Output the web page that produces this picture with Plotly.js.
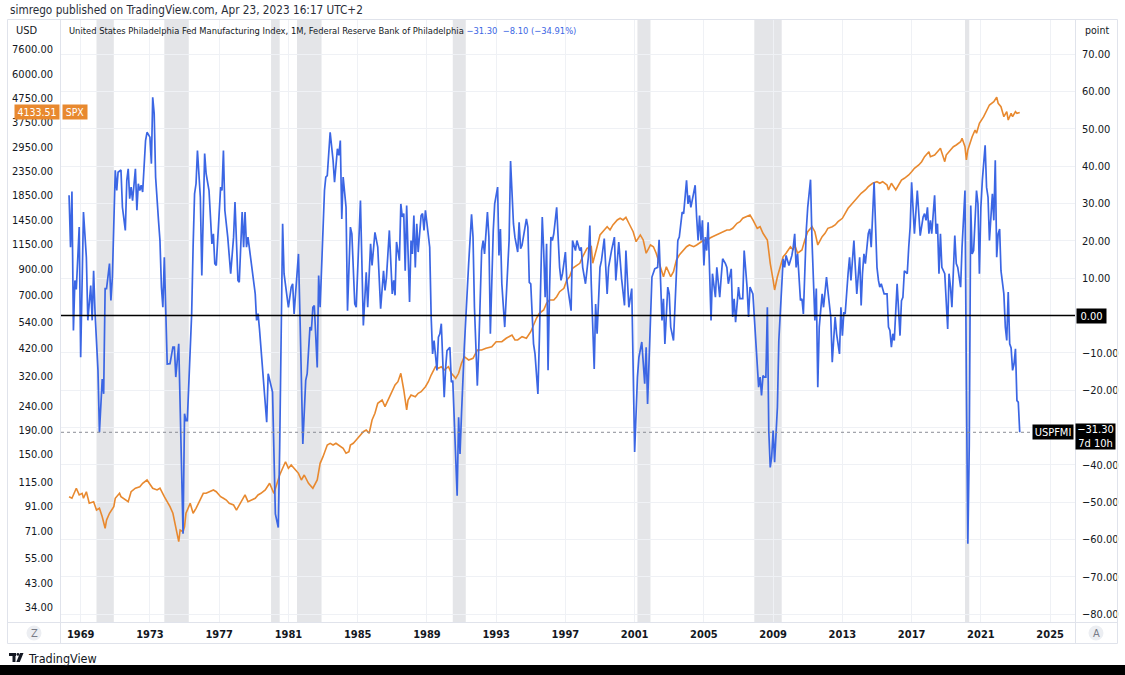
<!DOCTYPE html>
<html>
<head>
<meta charset="utf-8">
<script src="https://cdn.plot.ly/plotly-3.0.1.min.js"></script>
<style>
  html, body { margin: 0; padding: 0; background: #ffffff; }
  #chart { width: 1125px; height: 675px; }
</style>
</head>
<body>
<div id="chart"></div>
<script>
// Philadelphia Fed Manufacturing Index (monthly, points)
const phillyDates = [
  '1968-05','1968-06','1968-07','1968-08','1968-09','1968-10','1968-12',
  '1969-01','1969-03','1969-05','1969-06','1969-08','1969-09','1969-10','1969-11',
  '1970-01','1970-02','1970-04','1970-05','1970-06','1970-07','1970-09','1970-10','1970-11',
  '1971-01','1971-02','1971-03','1971-05','1971-06','1971-08','1971-09','1971-10','1971-11','1971-12',
  '1972-01','1972-03','1972-04','1972-05','1972-06','1972-07','1972-08','1972-10','1972-11',
  '1973-01','1973-02','1973-03','1973-04','1973-05','1973-07','1973-08','1973-09','1973-10','1973-11','1973-12',
  '1974-01','1974-03','1974-05','1974-06','1974-07','1974-09','1974-10','1974-11','1974-12',
  '1975-01','1975-02','1975-03','1975-06','1975-07','1975-08','1975-09','1975-10','1975-12',
  '1976-01','1976-02','1976-03','1976-04','1976-06','1976-08','1976-09','1976-10','1976-11',
  '1977-02','1977-03','1977-04','1977-05','1977-07','1977-09','1977-11','1977-12',
  '1978-02','1978-03','1978-05','1978-06','1978-07','1978-08','1978-09','1978-10',
  '1979-02','1979-03','1979-04','1979-05','1979-08','1979-10','1979-11',
  '1980-01','1980-02','1980-04','1980-06','1980-07','1980-09','1980-10','1980-11',
  '1981-01','1981-03','1981-04','1981-05','1981-06','1981-08','1981-09','1981-11',
  '1982-01','1982-02','1982-04','1982-05','1982-06','1982-07','1982-09','1982-10','1982-11','1982-12',
  '1983-01','1983-02','1983-03','1983-04','1983-06','1983-08','1983-09','1983-11','1983-12',
  '1984-01','1984-02','1984-03','1984-05','1984-06','1984-08','1984-09','1984-11','1984-12',
  '1985-03','1985-04','1985-05','1985-07','1985-08','1985-10','1985-11',
  '1986-01','1986-03','1986-05','1986-07','1986-08','1986-09','1986-11',
  '1987-01','1987-02','1987-03','1987-04','1987-06','1987-07','1987-08','1987-09','1987-10','1987-11',
  '1988-01','1988-02','1988-03','1988-04','1988-05','1988-06','1988-07','1988-08','1988-09','1988-10','1988-11','1988-12',
  '1989-02','1989-03','1989-04','1989-05','1989-06','1989-08','1989-09','1989-10','1989-11','1989-12',
  '1990-01','1990-02','1990-03','1990-05','1990-06','1990-07','1990-09','1990-10','1990-11','1990-12',
  '1991-01','1991-03','1991-06','1991-08','1991-09','1991-10','1991-12',
  '1992-01','1992-03','1992-04','1992-05','1992-07','1992-08','1992-09','1992-11','1992-12',
  '1993-02','1993-03','1993-04','1993-05','1993-07','1993-08','1993-10','1993-11',
  '1994-01','1994-02','1994-04','1994-05','1994-06','1994-07','1994-10','1994-11','1994-12',
  '1995-01','1995-03','1995-04','1995-06','1995-07','1995-09','1995-10','1995-11','1995-12',
  '1996-01','1996-02','1996-03','1996-04','1996-05','1996-07','1996-09','1996-10','1996-11',
  '1997-01','1997-02','1997-03','1997-05','1997-06','1997-08','1997-09','1997-11','1997-12',
  '1998-01','1998-03','1998-05','1998-06','1998-07','1998-09','1998-10','1998-11',
  '1999-01','1999-02','1999-04','1999-06','1999-07','1999-09','1999-11','1999-12',
  '2000-02','2000-04','2000-06','2000-07','2000-09','2000-11','2000-12',
  '2001-01','2001-03','2001-04','2001-06','2001-08','2001-09','2001-10',
  '2002-01','2002-03','2002-05','2002-06','2002-08','2002-09','2002-10','2002-12',
  '2003-01','2003-02','2003-04','2003-05','2003-06','2003-07','2003-08','2003-10','2003-11',
  '2004-01','2004-02','2004-03','2004-04','2004-05','2004-07','2004-08','2004-09','2004-10','2004-11','2004-12',
  '2005-01','2005-02','2005-03','2005-04','2005-05','2005-06','2005-07','2005-09','2005-10','2005-12',
  '2006-01','2006-02','2006-04','2006-05','2006-06','2006-08','2006-09','2006-10','2006-11',
  '2007-01','2007-02','2007-04','2007-05','2007-07','2007-08','2007-09','2007-11','2007-12',
  '2008-02','2008-03','2008-04','2008-05','2008-06','2008-07','2008-08','2008-09','2008-10','2008-11','2008-12',
  '2009-01','2009-02','2009-04','2009-05','2009-06','2009-08','2009-09','2009-10','2009-12',
  '2010-02','2010-03','2010-04','2010-05','2010-06','2010-08','2010-09','2010-10','2010-11','2010-12',
  '2011-01','2011-03','2011-04','2011-05','2011-06','2011-07','2011-08','2011-09','2011-11','2011-12',
  '2012-02','2012-03','2012-05','2012-06','2012-08','2012-09','2012-11','2012-12',
  '2013-01','2013-02','2013-03','2013-05','2013-06','2013-07','2013-09','2013-10','2013-11',
  '2014-01','2014-02','2014-03','2014-04','2014-05','2014-07','2014-08','2014-09','2014-11','2014-12',
  '2015-01','2015-02','2015-03','2015-04','2015-05','2015-06','2015-08','2015-09','2015-10','2015-11','2015-12',
  '2016-01','2016-03','2016-04','2016-05','2016-06','2016-07','2016-08','2016-10','2016-11','2016-12',
  '2017-01','2017-02','2017-03','2017-05','2017-06','2017-07','2017-09','2017-10','2017-11','2017-12',
  '2018-01','2018-02','2018-03','2018-05','2018-06','2018-07','2018-08','2018-09','2018-10','2018-12',
  '2019-02','2019-03','2019-04','2019-05','2019-07','2019-08','2019-09','2019-10','2019-11','2019-12',
  '2020-02','2020-03','2020-04','2020-05','2020-06','2020-07','2020-08','2020-10','2020-11','2020-12',
  '2021-01','2021-02','2021-04','2021-05','2021-06','2021-07','2021-09','2021-10','2021-11','2021-12',
  '2022-01','2022-02','2022-03','2022-05','2022-06','2022-07','2022-08','2022-09','2022-10','2022-11','2022-12',
  '2023-01','2023-02','2023-03','2023-04'
];
const phillyValues = [
  32.2, 18.3, 33.2, -4, 9.4, 7, 23.7,
  -11.2, 27.7, 15.6, -1.3, 8, -1.3, 12, 0.5,
  -14.7, -31.3, -17, -21, 7.2, 7.2, 13.9, 4, 10.3,
  38.9, 33.5, 38.4, 39, 29, 22.8, 36.2, 39.3, 31.3, 34.4,
  30.8, 39.3, 28.2, 35.3, 33.5, 34.9, 33.1, 46.9, 49.1,
  47.8, 40.7, 58.5, 54.1, 37.1, 25.5, 20.1, 7.6, 2.2, 15.6, -0.4,
  -13, -12.9, -8.5, -8.5, -16.5, -7.6, -26.4, -44.2, -58.5,
  -26.3, -28.2, -28.2, 0.5, 18.3, 32.6, 35.3, 44.2, 31.7,
  10.7, 27.3, 43.4, 38, 33.5, 19.2, 21.9, 13.9, 13.4,
  34.4, 33.5, 44.2, 28.2, 21, 11.2, 21, 30.4,
  9.4, 8.9, 27.7, 18.3, 27.7, 18.3, 21, 18.3,
  5.8, -1.3, 0.5, -3.5, -17.4, -28.6, -15.6,
  -19.2, -20.5, -53.2, -56.8, -35.3, 24.6, 11.2, 8.5,
  2.2, 7.6, 8.5, 0.4, 5.8, 16.5, 0.4, -34.4,
  -17.4, -15.6, -3.1, -4, 2.2, 2.7, -13.9, 10.7, 2.2, 13.9,
  21.9, 33.5, 37.1, 37.5, 49.1, 41.6, 35.7, 44.7, 42.9,
  46.9, 25.9, 37.1, 29, 1.3, 23.7, 21.9, 3.1, 2.2,
  30.8, 9.4, -2.7, 11.6, 2.2, 19.2, 13.4,
  22.3, 18.3, 1.8, 12, 6.7, 10.3, 22.8,
  5.8, 9.4, 5.4, 19.7, 14.7, 29.9, 26.4, 27.3, 12, 29.5,
  3.6, 20.1, 16.5, 26.8, 12.9, 24.6, 17, 21.9, 26.8, 27.3, 22.8, 28.2,
  20.1, 18.3, -0.4, -10.3, -6.7, -14.7, -5.8, -4.9, -2.2, -12.1,
  -21.9, -13.9, -9.4, -8.5, -17.9, -17.4, -39.8, -48.3, -27.3, -37.1,
  -26.4, -8.5, 13.9, 27.1, 21, 2.2, -18.8,
  -8.5, 17.4, 20.1, 16.5, 27.7, 21, -4.9, 22.8, 29.9,
  34.4, 16.1, 23.2, 8.5, -3.1, 5.8, 20.1, 41.4,
  24.6, 21, 17, 25, 17.9, 18.8, 25.9, 23.7, 8.9,
  8.5, -7.6, -10.3, -21, -6.7, 26.4, 17.4, 4.9, 19.2,
  -14.7, 6.7, 21, 20.1, 21.9, 29, 12.9, 9.4, 11.2,
  17, 9.4, 6.7, 1.3, 20.1, 17.4, 20.1, 17.4, 18.3,
  12.9, 8.5, 15.6, 24.1, 8.5, -14.3, 3.1, -4.9,
  12.9, 14.7, 20.6, 5.8, 12.9, 17.4, 21, 9.4,
  19.7, 9.8, 2.7, 17.4, 2.2, 7.2, -15.6,
  -36.6, -16.5, -11.2, -7.1, -18.3, -8.5, -23.7,
  10.3, 12.5, 12.9, 20.3, -1.3, 4.5, -7.6, 7.6,
  5.8, -3.1, -6.7, 2.2, 11.2, 20.1, 21, 27.7, 27.3,
  36.2, 29.9, 32.2, 29, 30.8, 34.9, 26.4, 20.1, 26.8, 20.1, 25.5,
  13.4, 21, 17.4, 25, 7.6, -1.3, 11.2, 4.9, 12.9, 4.9,
  10.3, 15.2, 13.9, 12.9, 8.5, 12.5, -0.4, 4.5, -1.8,
  7.6, 4.5, 4.5, 17.4, 7.6, -0.4, 7.6, 5.8, -1.3,
  -14.7, -19.2, -16.5, -21.4, -16.1, -16.5, -16.5, 2.2, -30.8, -40.7, -38,
  -30.8, -39.3, -24.6, -6.7, 0.4, 15.2, 12.9, 16.1, 13.4,
  16.1, 18.3, 21.9, 12.9, 16.5, 4, 4.5, 0.4, 15.6, 22.8,
  29, 36.4, 20.1, 7.6, -1.3, 7.2, -19.2, -3.1, 5.8, 2.2,
  10.3, 6.7, -0.4, -12.5, -0.4, -4.9, -10.3, 2.2,
  -5.4, 0.9, 0.4, 11.2, 15.6, 9.4, 20.1, 12.9, 5.8,
  15.6, 2.7, 11.2, 16.5, 13.9, 21.9, 23.2, 18.3, 35.7, 22.8,
  12.9, 9.4, 7.6, 8.5, 6.7, 5.8, 5.8, -3.1, -4, -8.5, -4.9,
  -6.7, 8.5, 0.4, -5.4, 4, 4.9, 12, 11.2, 18.3, 23.7,
  35.7, 27.3, 21.9, 33.5, 27.3, 21.4, 26.4, 27.3, 25.5, 29,
  21.9, 25.5, 21.9, 32.2, 21.9, 24.6, 11.2, 21.9, 12.9, 11.2,
  -3.6, 11.2, 7.6, 2.2, 21.4, 13.9, 12.9, 9.4, 7.6, 18.3,
  33.5, -17.4, -61.2, -35, 29.5, 16.5, 17.4, 33.5, 29.9, 11.2,
  29, 36.2, 45.6, 34.4, 31.7, 20.1, 32.6, 25.5, 41.6, 15.6,
  21.9, 23.2, 12, 5.8, -3.1, -6.7, 6.3, -7.6, -8.7, -14.7, -13,
  -8.9, -22.8, -23.2, -31.3
];

// S&P 500 index (monthly close, USD)
const spxDates = [
  '1968-05','1968-07','1968-10','1968-12',
  '1969-02','1969-03','1969-05','1969-07','1969-10','1969-12',
  '1970-02','1970-04','1970-06','1970-07','1970-09','1970-12',
  '1971-01','1971-04','1971-05','1971-08','1971-10','1971-12',
  '1972-03','1972-06','1972-08','1972-11',
  '1973-01','1973-03','1973-06','1973-08','1973-11',
  '1974-01','1974-03','1974-05','1974-07','1974-09','1974-10','1974-12',
  '1975-01','1975-02','1975-05','1975-07','1975-09',
  '1976-01','1976-02','1976-04','1976-07','1976-09','1976-11',
  '1977-02','1977-04','1977-06','1977-08','1977-11',
  '1978-01','1978-03','1978-05','1978-07','1978-09','1978-12',
  '1979-02','1979-04','1979-06','1979-09','1979-11','1979-12',
  '1980-03','1980-05','1980-07','1980-09','1980-11',
  '1981-01','1981-03','1981-06','1981-08','1981-10','1981-12',
  '1982-03','1982-05','1982-06','1982-09','1982-11',
  '1983-01','1983-04','1983-06','1983-08','1983-10',
  '1984-01','1984-03','1984-05','1984-07','1984-08','1984-10','1984-12',
  '1985-03','1985-05','1985-07','1985-09','1985-11',
  '1986-01','1986-03','1986-06','1986-08','1986-10',
  '1987-01','1987-03','1987-05','1987-07','1987-09','1987-11','1987-12',
  '1988-02','1988-05','1988-07','1988-09','1988-12',
  '1989-02','1989-04','1989-07','1989-09','1989-11',
  '1990-01','1990-04','1990-06','1990-09','1990-11',
  '1991-01','1991-03','1991-06','1991-09','1991-12',
  '1992-03','1992-06','1992-10',
  '1993-01','1993-05','1993-08','1993-12',
  '1994-02','1994-04','1994-07','1994-10',
  '1995-01','1995-03','1995-05','1995-07','1995-10','1995-12',
  '1996-02','1996-05','1996-07','1996-09','1996-12',
  '1997-02','1997-04','1997-06','1997-09','1997-11',
  '1998-01','1998-04','1998-07','1998-08','1998-11',
  '1999-01','1999-04','1999-06','1999-08','1999-10',
  '2000-01','2000-03','2000-05','2000-07','2000-09','2000-11','2000-12',
  '2001-02','2001-05','2001-07','2001-09','2001-12',
  '2002-02','2002-04','2002-07','2002-09','2002-11',
  '2003-01','2003-02','2003-04','2003-06','2003-08','2003-11',
  '2004-01','2004-03','2004-06','2004-08','2004-10',
  '2005-01','2005-03','2005-05','2005-07','2005-10','2005-12',
  '2006-02','2006-05','2006-07','2006-09','2006-12',
  '2007-02','2007-04','2007-07','2007-09','2007-11',
  '2008-02','2008-04','2008-06','2008-09','2008-11',
  '2009-01','2009-02','2009-04','2009-06','2009-08','2009-10',
  '2010-01','2010-03','2010-04','2010-06','2010-09','2010-11',
  '2011-01','2011-04','2011-06','2011-08','2011-11',
  '2012-01','2012-03','2012-06','2012-08','2012-10',
  '2013-01','2013-03','2013-05','2013-07','2013-10','2013-12',
  '2014-02','2014-05','2014-07','2014-10',
  '2015-01','2015-03','2015-05','2015-08','2015-09','2015-11',
  '2016-02','2016-04','2016-06','2016-08','2016-11',
  '2017-01','2017-03','2017-06','2017-08','2017-10',
  '2018-01','2018-02','2018-05','2018-07','2018-09','2018-12',
  '2019-01','2019-04','2019-06','2019-08','2019-11','2019-12',
  '2020-02','2020-03','2020-04','2020-07','2020-09','2020-10','2020-12',
  '2021-03','2021-05','2021-07','2021-10','2021-12',
  '2022-01','2022-03','2022-05','2022-07','2022-08','2022-10','2022-11',
  '2023-01','2023-02','2023-04'
];
const spxValues = [
  99.6, 98.1, 108.1, 101.3,
  102.9, 98.1, 104.5, 93.4, 94.9, 87.5,
  89.0, 82.0, 73.3, 79.4, 84.8, 90.4,
  98.1, 102.9, 99.6, 96.4, 94.9, 104.5,
  108.1, 109.7, 113.4, 117.1,
  111.6, 108.1, 106.3, 108.1, 99.6,
  94.9, 90.4, 84.8, 74.4, 64.4, 72.1, 70.9,
  74.4, 84.8, 93.4, 84.8, 89.0,
  101.3, 102.9, 102.9, 104.5, 106.3, 104.5,
  99.6, 98.1, 96.4, 93.4, 91.9,
  87.5, 91.9, 96.4, 101.3, 94.9, 96.4,
  98.1, 101.3, 102.9, 106.3, 111.6, 113.4,
  102.9, 113.4, 122.9, 131.2, 139.8,
  131.2, 135.4, 129.0, 124.9, 117.1, 122.9,
  113.4, 109.7, 108.1, 117.1, 137.6,
  146.8, 164.4, 167.1, 164.4, 167.1,
  161.7, 159.2, 151.7, 154.1, 164.4, 167.1, 172.6,
  181.1, 187.0, 190.2, 184.2, 209.5,
  223.6, 246.3, 254.3, 238.4, 254.3,
  275.6, 294.2, 303.7, 329.5, 280.2, 230.9, 254.3,
  267.0, 262.6, 271.4, 275.6, 289.4,
  303.7, 324.0, 351.2, 345.8, 351.2,
  340.2, 351.2, 329.5, 313.8, 329.5,
  362.9, 387.0, 374.8, 381.0, 412.9,
  412.9, 419.8, 426.4,
  447.5, 447.5, 462.6, 477.6,
  455.0, 455.0, 469.7, 462.6,
  493.0, 526.2, 561.6, 589.4, 608.6, 649.4,
  670.5, 670.5, 692.3, 726.8, 751.2,
  813.8, 840.3, 911.8, 941.5, 957.2,
  1020.2, 1107, 1124, 957.2, 1124,
  1260, 1322, 1365, 1322, 1388,
  1457, 1481, 1457, 1495, 1411, 1344, 1300,
  1180, 1260, 1200, 1055, 1143,
  1124, 1055, 911.8, 840.3, 926.0,
  868.5, 840.3, 882.2, 988.1, 1037.3, 1088.8,
  1124, 1143, 1124, 1143, 1162,
  1200, 1180, 1220, 1238, 1260, 1280,
  1300, 1322, 1322, 1344, 1411,
  1433, 1481, 1504, 1529, 1457,
  1344, 1365, 1280, 1200, 957,
  813.8, 738.8, 840.3, 926.0, 1020, 1055,
  1124, 1089, 1143, 1055, 1089, 1200,
  1300, 1365, 1300, 1143, 1238,
  1280, 1344, 1365, 1388, 1433,
  1481, 1554, 1631, 1684, 1768, 1826,
  1887, 1948, 2012, 2079,
  2111, 2079, 2111, 2045, 1948, 2079,
  1948, 2045, 2146, 2182, 2253,
  2326, 2404, 2482, 2563, 2690,
  2823, 2690, 2735, 2823, 2918, 2563,
  2735, 2871, 2964, 3014, 3111, 3216,
  2964, 2606, 2871, 3266, 3485, 3376, 3718,
  3965, 4230, 4441, 4586, 4786,
  4515, 4369, 3965, 4162, 3840, 4098, 3965,
  4162, 4098, 4133.51
];

// NBER recession periods (shaded)
const recessionStarts = ['1969-12-01','1973-11-01','1980-01-01','1981-07-01','1990-07-01','2001-03-01','2007-12-01','2020-02-01'];
const recessionEnds   = ['1970-12-01','1975-04-01','1980-07-01','1982-12-01','1991-04-01','2001-12-01','2009-07-01','2020-05-01'];

// Axis tick labels
const yearTicks = [1969, 1973, 1977, 1981, 1985, 1989, 1993, 1997, 2001, 2005, 2009, 2013, 2017, 2021, 2025];
const usdTicks = [34, 43, 55, 71, 91, 115, 150, 190, 240, 320, 420, 540, 700, 900, 1150, 1450, 1850, 2350, 2950, 3750, 4750, 6000, 7600];
const pointTicks = [-80, -70, -60, -50, -40, -30, -20, -10, 0, 10, 20, 30, 40, 50, 60, 70];

// Last values shown in the header and price tags
const spxLast = 4133.51;
const phillyLast = -31.30;
const phillyChange = -8.10;
const phillyChangePct = -34.91;

const FONT = "'Liberation Sans Narrow', 'DejaVu Sans Condensed', 'Noto Sans', sans-serif";
const TEXT = '#131722';
const BLUE = '#3b66e4';
const ORANGE = '#e8892f';
const GRID = '#eff1f5';
const BORDER = '#e0e3eb';

// plot area in page pixels
const PL = 61, PR = 1075, PT = 19, PB = 622;
const px = x => (x - PL) / (PR - PL);
const py = y => (PB - y) / (PB - PT);

const num = v => (v < 0 ? '\u2212' : '') + Math.abs(v).toFixed(2);

const traces = [
  {
    x: spxDates, y: spxValues, type: 'scatter', mode: 'lines',
    line: { color: ORANGE, width: 1.6 }, xaxis: 'x', yaxis: 'y', hoverinfo: 'skip'
  },
  {
    x: phillyDates, y: phillyValues, type: 'scatter', mode: 'lines',
    line: { color: BLUE, width: 1.7 }, xaxis: 'x', yaxis: 'y2', hoverinfo: 'skip'
  }
];

const shapes = [];
recessionStarts.forEach((s, i) => {
  shapes.push({
    type: 'rect', xref: 'x', yref: 'paper', x0: s, x1: recessionEnds[i], y0: 0, y1: 1,
    fillcolor: '#e4e5e8', line: { width: 0 }, layer: 'below'
  });
});

// frame lines
const frameLine = (x0, y0, x1, y1) => ({
  type: 'line', xref: 'paper', yref: 'paper', x0: px(x0), x1: px(x1), y0: py(y0), y1: py(y1),
  line: { color: BORDER, width: 1 }, layer: 'above'
});
shapes.push(frameLine(7.5, 19.5, 1117.5, 19.5));
shapes.push(frameLine(7.5, 643.5, 1117.5, 643.5));
shapes.push(frameLine(7.5, 19.5, 7.5, 643.5));
shapes.push(frameLine(1117.5, 19.5, 1117.5, 643.5));
shapes.push(frameLine(60.5, 19.5, 60.5, 643.5));
shapes.push(frameLine(1075.5, 19.5, 1075.5, 643.5));
shapes.push(frameLine(7.5, 622.5, 1117.5, 622.5));

// zero line and last-value line on the index scale
shapes.push({
  type: 'line', xref: 'paper', yref: 'y2', x0: 0, x1: 1, y0: 0, y1: 0,
  line: { color: '#000000', width: 1.6 }, layer: 'above'
});
shapes.push({
  type: 'line', xref: 'paper', yref: 'y2', x0: 0, x1: px(1033), y0: phillyLast, y1: phillyLast,
  line: { color: '#8a8d96', width: 1, dash: 'dot' }, layer: 'above'
});

// scale-mode buttons
[34, 1096].forEach(cx => {
  shapes.push({
    type: 'circle', xref: 'paper', yref: 'paper',
    x0: px(cx - 7.5), x1: px(cx + 7.5), y0: py(640.5), y1: py(625.5),
    fillcolor: '#eceef2', line: { width: 0 }, layer: 'above'
  });
});

// bottom strip
shapes.push({
  type: 'rect', xref: 'paper', yref: 'paper', x0: px(-5), x1: px(1130), y0: py(665), y1: py(680),
  fillcolor: '#000000', line: { width: 0 }, layer: 'above'
});

// brand mark
shapes.push({ type: 'rect', xref: 'paper', yref: 'paper', x0: px(9), x1: px(16), y0: py(656), y1: py(653),
  fillcolor: TEXT, line: { width: 0 }, layer: 'above' });
shapes.push({ type: 'rect', xref: 'paper', yref: 'paper', x0: px(12.5), x1: px(15.5), y0: py(662), y1: py(653),
  fillcolor: TEXT, line: { width: 0 }, layer: 'above' });
shapes.push({ type: 'circle', xref: 'paper', yref: 'paper', x0: px(16.5), x1: px(19.3), y0: py(655.8), y1: py(653),
  fillcolor: TEXT, line: { width: 0 }, layer: 'above' });
shapes.push({ type: 'path', xref: 'paper', yref: 'paper',
  path: `M ${px(20)} ${py(653)} L ${px(23.5)} ${py(653)} L ${px(19.8)} ${py(662)} L ${px(16.3)} ${py(662)} Z`,
  fillcolor: TEXT, line: { width: 0 }, layer: 'above' });

const annotations = [
  { text: 'simrego published on TradingView.com, Apr 23, 2023 16:17 UTC+2',
    xref: 'paper', yref: 'paper', x: px(8), y: py(10), xanchor: 'left', yanchor: 'middle',
    showarrow: false, font: { family: FONT, size: 11.7, color: '#2a2e39' } },
  { text: 'USD', xref: 'paper', yref: 'paper', x: px(14), y: py(30), xanchor: 'left', yanchor: 'middle',
    showarrow: false, font: { family: FONT, size: 11, color: TEXT } },
  { text: 'point', xref: 'paper', yref: 'paper', x: px(1083), y: py(30), xanchor: 'left', yanchor: 'middle',
    showarrow: false, font: { family: FONT, size: 10.5, color: TEXT } },
  { text: 'United States Philadelphia Fed Manufacturing Index, 1M, Federal Reserve Bank of Philadelphia ' +
          `<span style="color:${BLUE}">${num(phillyLast)}  ${num(phillyChange)} (${num(phillyChangePct)}%)</span>`,
    xref: 'paper', yref: 'paper', x: px(67), y: py(30), xanchor: 'left', yanchor: 'middle',
    showarrow: false, font: { family: FONT, size: 9.3, color: TEXT } },
  // price tags
  { text: spxLast.toFixed(2), xref: 'paper', yref: 'y', x: px(60), y: Math.log10(spxLast),
    xanchor: 'right', yanchor: 'middle', showarrow: false, bgcolor: ORANGE, borderpad: 1,
    width: 42, height: 12, font: { family: FONT, size: 10.5, color: '#ffffff' } },
  { text: 'SPX', xref: 'paper', yref: 'y', x: px(62), y: Math.log10(spxLast),
    xanchor: 'left', yanchor: 'middle', showarrow: false, bgcolor: ORANGE, borderpad: 1,
    width: 22, height: 12, font: { family: FONT, size: 10.5, color: '#ffffff' } },
  { text: '0.00', xref: 'paper', yref: 'y2', x: px(1076), y: 0,
    xanchor: 'left', yanchor: 'middle', showarrow: false, bgcolor: '#000000', borderpad: 1,
    width: 27, height: 12, font: { family: FONT, size: 11, color: '#ffffff' } },
  { text: 'USPFMI', xref: 'paper', yref: 'y2', x: px(1074), y: phillyLast,
    xanchor: 'right', yanchor: 'middle', showarrow: false, bgcolor: '#000000', borderpad: 1,
    width: 38, height: 12, font: { family: FONT, size: 11, color: '#ffffff' } },
  { text: num(phillyLast) + '<br>7d 10h', xref: 'paper', yref: 'paper', x: px(1075), y: py(423),
    xanchor: 'left', yanchor: 'top', showarrow: false, bgcolor: '#000000', borderpad: 1,
    width: 37, height: 23, font: { family: FONT, size: 11, color: '#ffffff' } },
  // scale-mode letters
  { text: 'Z', xref: 'paper', yref: 'paper', x: px(34), y: py(633), xanchor: 'center', yanchor: 'middle',
    showarrow: false, font: { family: FONT, size: 11, color: '#787b86' } },
  { text: 'A', xref: 'paper', yref: 'paper', x: px(1096), y: py(633), xanchor: 'center', yanchor: 'middle',
    showarrow: false, font: { family: FONT, size: 11, color: '#787b86' } },
  { text: 'TradingView', xref: 'paper', yref: 'paper', x: px(26), y: py(658), xanchor: 'left', yanchor: 'middle',
    showarrow: false, font: { family: FONT, size: 12.5, color: TEXT } }
];

const layout = {
  width: 1125, height: 675,
  margin: { l: PL, r: 1125 - PR, t: PT, b: 675 - PB, pad: 0 },
  paper_bgcolor: '#ffffff', plot_bgcolor: '#ffffff',
  showlegend: false,
  font: { family: FONT, size: 11, color: TEXT },
  xaxis: {
    type: 'date', range: ['1967-11-13', '2026-06-10'],
    tickmode: 'array', tickvals: yearTicks.map(y => `${y}-01-01`), ticktext: yearTicks.map(y => `<b>${y}</b>`),
    showgrid: true, gridcolor: GRID, gridwidth: 1, zeroline: false, showline: false, ticks: '',
    tickfont: { family: FONT, size: 11, color: TEXT }, ticklabelstandoff: 4, fixedrange: true
  },
  yaxis: {
    type: 'log', range: [1.4706, 4.0096], side: 'left',
    tickmode: 'array', tickvals: usdTicks, ticktext: usdTicks.map(v => v.toFixed(2)),
    showgrid: false, zeroline: false, showline: false, ticks: '',
    tickfont: { family: FONT, size: 11, color: TEXT }, ticklabelstandoff: 7, fixedrange: true
  },
  yaxis2: {
    overlaying: 'y', side: 'right', range: [-82.14, 79.46],
    tickmode: 'array', tickvals: pointTicks,
    // the -30 label sits under the last-value tag on this scale
    ticktext: pointTicks.map(v => (v === -30 ? '' : num(v))),
    showgrid: true, gridcolor: GRID, gridwidth: 1, zeroline: false, showline: false, ticks: '',
    tickfont: { family: FONT, size: 11, color: TEXT }, ticklabelstandoff: 6, fixedrange: true
  },
  shapes: shapes,
  annotations: annotations
};

Plotly.newPlot('chart', traces, layout, { displayModeBar: false, staticPlot: true });
</script>
</body>
</html>
